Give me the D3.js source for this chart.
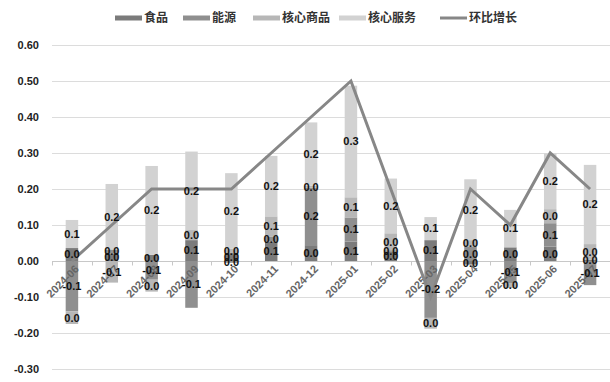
<!DOCTYPE html>
<html><head><meta charset="utf-8">
<script src="https://cdn.jsdelivr.net/npm/d3@7/dist/d3.min.js"></script>
<style>
body{margin:0;background:#fff;}
svg{display:block;}
</style></head>
<body><svg id="c" width="610" height="382"></svg>
<script>
const months = ["2024-06","2024-07","2024-08","2024-09","2024-10","2024-11","2024-12","2025-01","2025-02","2025-03","2025-04","2025-05","2025-06","2025-07"];
const food      = [0.036, 0.020, 0.017, 0.058, 0.022, 0.054, 0.044, 0.054, 0.027, 0.058, -0.010, 0.038, 0.040, 0.004];
const energy    = [-0.140, 0.012, -0.052, -0.130, -0.005, 0.013, 0.160, 0.067, 0.003, -0.158, 0.039, -0.061, 0.065, -0.067];
const coreGoods = [-0.035, -0.060, -0.033, 0.028, 0.012, 0.057, 0.005, 0.056, 0.047, -0.030, 0.019, -0.014, 0.039, 0.043];
const coreServ  = [0.078, 0.182, 0.247, 0.218, 0.210, 0.168, 0.176, 0.310, 0.152, 0.064, 0.169, 0.104, 0.155, 0.220];
const mom       = [0.0, 0.1, 0.2, 0.2, 0.2, 0.3, 0.4, 0.5, 0.2, -0.1, 0.2, 0.1, 0.3, 0.2];
const yTicks    = [0.6, 0.5, 0.4, 0.3, 0.2, 0.1, 0.0, -0.1, -0.2, -0.3];
const seriesNames = ["食品","能源","核心商品","核心服务"];
const lineName = "环比增长";

const colors = {"食品":"#7b7b7b","能源":"#8f8f8f","核心商品":"#b7b7b7","核心服务":"#d2d2d2"};
const lineColor = "#878787";

const svg = d3.select("#c");
const mLeft = 52, mRight = 610, mTop = 45, mBottom = 369;

const x = d3.scaleBand().domain(months).range([mLeft, mRight]).paddingInner(0).paddingOuter(0);
const y = d3.scaleLinear().domain([-0.3, 0.6]).range([mBottom, mTop]);
const barW = 12.5;

const rows = months.map((m,i)=>({month:m, "食品":food[i], "能源":energy[i], "核心商品":coreGoods[i], "核心服务":coreServ[i]}));
const stack = d3.stack().keys(seriesNames).offset(d3.stackOffsetDiverging);
const stacked = stack(rows);

// gridlines
svg.append("g").selectAll("line").data(yTicks).join("line")
  .attr("x1", mLeft).attr("x2", mRight)
  .attr("y1", d=>Math.round(y(d))+0.5).attr("y2", d=>Math.round(y(d))+0.5)
  .attr("stroke", d=> d===0 ? "#c8c8c8" : "#dcdcdc").attr("stroke-width",1);

// y tick labels
svg.append("g").selectAll("text").data(yTicks).join("text")
  .attr("x", 39).attr("y", d=>y(d)).attr("dy","0.35em")
  .attr("text-anchor","end")
  .attr("font-family","Liberation Sans, Arial, sans-serif")
  .attr("font-weight","bold").attr("font-size","11px").attr("fill","#222")
  .text(d=>d3.format(".2f")(d).replace("−","-"));

// category ticks on zero line
const bounds = months.map(m=>x(m)).concat([mRight]);
svg.append("g").selectAll("line").data(bounds).join("line")
  .attr("x1", d=>Math.round(d)+0.5).attr("x2", d=>Math.round(d)+0.5)
  .attr("y1", Math.round(y(0))+0.5).attr("y2", Math.round(y(0))+4.5)
  .attr("stroke","#c8c8c8");

// bars
const gBars = svg.append("g");
stacked.forEach(s=>{
  gBars.append("g").selectAll("rect").data(s).join("rect")
    .attr("x", d=>x(d.data.month)+x.bandwidth()/2-barW/2)
    .attr("width", barW)
    .attr("y", d=>y(Math.max(d[0],d[1])))
    .attr("height", d=>Math.abs(y(d[0])-y(d[1])))
    .attr("fill", colors[s.key]);
});

// x labels
svg.append("g").selectAll("text").data(months).join("text")
  .attr("transform", d=>`translate(${x(d)+x.bandwidth()/2+5},${y(0)+6}) rotate(-45)`)
  .attr("text-anchor","end").attr("dy","0.35em")
  .attr("font-family","Liberation Sans, Arial, sans-serif")
  .attr("font-weight","bold").attr("font-size","11px").attr("fill","#666")
  .text(d=>d);

// line
const line = d3.line().x((d,i)=>x(months[i])+x.bandwidth()/2).y(d=>y(d));
svg.append("path").datum(mom).attr("d", line)
  .attr("fill","none").attr("stroke",lineColor).attr("stroke-width",3).attr("stroke-linejoin","miter");

// data labels
const fmt = v => { const r = Math.round(v*10)/10; return (r===0?0:r).toFixed(1); };
const gLab = svg.append("g");
stacked.forEach(s=>{
  gLab.append("g").selectAll("text").data(s).join("text")
    .attr("x", d=>x(d.data.month)+x.bandwidth()/2)
    .attr("y", d=>y((d[0]+d[1])/2)).attr("dy","0.35em")
    .attr("text-anchor","middle")
    .attr("font-family","Liberation Sans, Arial, sans-serif")
    .attr("font-weight","bold").attr("font-size","11px").attr("fill","#111")
    .text(d=>fmt(d.data[s.key]));
});

// legend
const legendItems = seriesNames.concat([lineName]);
const legendX = [115, 183, 253, 339, 440];
const lg = svg.append("g");
legendItems.forEach((name,i)=>{
  const g = lg.append("g").attr("transform",`translate(${legendX[i]},18)`);
  if (name === lineName) {
    g.append("line").attr("x1",0).attr("x2",27).attr("y1",0).attr("y2",0)
      .attr("stroke",lineColor).attr("stroke-width",3);
  } else {
    g.append("rect").attr("x",0).attr("y",-2.5).attr("width",27).attr("height",5).attr("fill",colors[name]);
  }
  g.append("text").attr("x",29).attr("y",0).attr("dy","0.35em")
    .attr("font-family","Noto Sans CJK SC, sans-serif").attr("font-weight","bold")
    .attr("font-size","12px").attr("fill","#333").text(name);
});
</script></body></html>
